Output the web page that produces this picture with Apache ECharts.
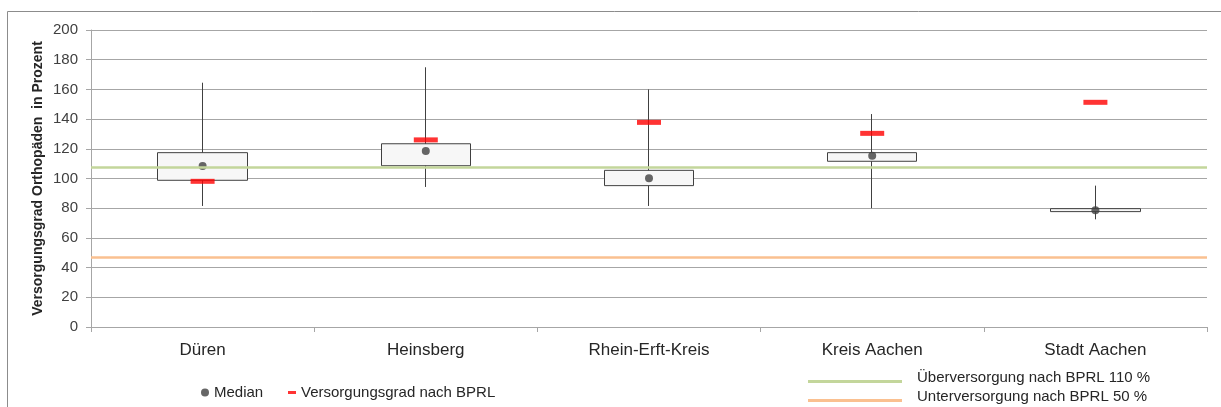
<!DOCTYPE html>
<html>
<head>
<meta charset="utf-8">
<script src="https://cdn.jsdelivr.net/npm/echarts@6/dist/echarts.min.js"></script>
<style>
  html, body { margin: 0; padding: 0; background: #ffffff; }
  #chart { width: 1221px; height: 407px; }
</style>
</head>
<body>
<div id="chart"></div>
<script>
// Regions on the x axis
const categories = ['Düren', 'Heinsberg', 'Rhein-Erft-Kreis', 'Kreis Aachen', 'Stadt Aachen'];

// Distribution of the supply level per region (percent)
const whiskerMin = [81.5, 94.3, 81.5, 80.0, 72.5];
const quartile1  = [98.8, 108.6, 95.2, 111.6, 77.7];
const medianVals = [108.4, 118.5, 100.1, 115.4, 78.6];
const quartile3  = [117.4, 123.4, 105.5, 117.4, 79.7];
const whiskerMax = [164.5, 174.9, 160.0, 143.4, 95.2];

// Supply level according to the planning guideline (BPRL)
const bprlVals = [98.1, 126.0, 137.8, 130.4, 151.3];

// Threshold lines
const overSupplyLevel = 107.6;
const underSupplyLevel = 47.0;

// Y axis ticks
const yMin = 0, yMax = 200, yStep = 20;

const boxData = categories.map((c, i) => [quartile1[i], quartile3[i], whiskerMin[i], whiskerMax[i]]);

const textColor = '#404040';
const fontFamily = '"Liberation Sans", Arial, sans-serif';
const legendText = { color: '#262626', fontSize: 15, fontFamily: fontFamily };
const legendTextLine = { color: '#262626', fontSize: 15, fontFamily: fontFamily, padding: [0, 0, 0, 10] };
// long legend stroke sitting a little below the text's middle
const lineIcon = 'path://M0,0h94v0.01h-94z M0,8h94v3h-94z';

const chart = echarts.init(document.getElementById('chart'), null, { renderer: 'canvas' });

chart.setOption({
  animation: false,
  backgroundColor: '#ffffff',
  textStyle: { fontFamily: fontFamily },
  grid: { left: 91, top: 30, right: 14, bottom: 80, containLabel: false },
  graphic: [{
    type: 'rect',
    silent: true,
    shape: { x: 7.5, y: 11.5, width: 1400, height: 600 },
    style: { fill: 'none', stroke: '#8c8c8c', lineWidth: 1 }
  }],
  xAxis: {
    type: 'category',
    data: categories,
    boundaryGap: true,
    axisLine: { show: true, lineStyle: { color: '#a6a6a6', width: 1 } },
    axisTick: { show: true, length: 5, lineStyle: { color: '#a6a6a6' } },
    axisLabel: { color: '#262626', fontSize: 17, margin: 15, fontFamily: fontFamily },
    splitLine: { show: false }
  },
  yAxis: {
    type: 'value',
    min: yMin,
    max: yMax,
    interval: yStep,
    name: 'Versorgungsgrad Orthopäden  in Prozent',
    nameLocation: 'middle',
    nameRotate: 90,
    nameGap: 46,
    nameMoveOverlap: false,
    nameTextStyle: { color: '#262626', fontSize: 14, fontWeight: 'bold', fontFamily: fontFamily },
    axisLine: { show: true, lineStyle: { color: '#a6a6a6', width: 1 } },
    axisTick: { show: true, length: 5, lineStyle: { color: '#a6a6a6' } },
    axisLabel: { color: textColor, fontSize: 15, margin: 13, fontFamily: fontFamily },
    splitLine: { show: true, lineStyle: { color: '#a6a6a6', width: 1 } }
  },
  legend: [
    {
      data: [{ name: 'Median', icon: 'circle' }],
      left: 201, top: 385, padding: 0,
      itemWidth: 8, itemHeight: 8,
      textStyle: legendText,
      selectedMode: false
    },
    {
      data: [{ name: 'Versorgungsgrad nach BPRL', icon: 'rect' }],
      left: 288, top: 385, padding: 0,
      itemWidth: 8, itemHeight: 3,
      textStyle: legendText,
      selectedMode: false
    },
    {
      data: [{ name: 'Überversorgung nach BPRL 110 %', icon: lineIcon }],
      left: 808, top: 370, padding: 0,
      itemWidth: 94, itemHeight: 11,
      textStyle: legendTextLine,
      selectedMode: false
    },
    {
      data: [{ name: 'Unterversorgung nach BPRL 50 %', icon: lineIcon }],
      left: 808, top: 389, padding: 0,
      itemWidth: 94, itemHeight: 11,
      textStyle: legendTextLine,
      selectedMode: false
    }
  ],
  series: [
    {
      name: 'Spannweite',
      type: 'candlestick',
      data: boxData,
      barWidth: 90,
      z: 2,
      itemStyle: {
        color: '#f7f7f7',
        color0: '#f7f7f7',
        borderColor: '#404040',
        borderColor0: '#404040',
        borderWidth: 1
      }
    },
    {
      name: 'Überversorgung nach BPRL 110 %',
      type: 'line',
      data: [],
      color: '#c3d69b',
      z: 3,
      markLine: {
        silent: true,
        symbol: 'none',
        label: { show: false },
        lineStyle: { color: '#c3d69b', width: 2.5, type: 'solid' },
        data: [{ yAxis: overSupplyLevel }]
      }
    },
    {
      name: 'Unterversorgung nach BPRL 50 %',
      type: 'line',
      data: [],
      color: '#fac090',
      z: 3,
      markLine: {
        silent: true,
        symbol: 'none',
        label: { show: false },
        lineStyle: { color: '#fac090', width: 2.5, type: 'solid' },
        data: [{ yAxis: underSupplyLevel }]
      }
    },
    {
      name: 'Median',
      type: 'scatter',
      data: medianVals,
      symbol: 'circle',
      symbolSize: 8,
      z: 4,
      itemStyle: { color: '#404040' }
    },
    {
      name: 'Versorgungsgrad nach BPRL',
      type: 'scatter',
      data: bprlVals,
      symbol: 'rect',
      symbolSize: [24, 5],
      z: 5,
      itemStyle: { color: '#ff0000' }
    }
  ]
});
</script>
</body>
</html>
